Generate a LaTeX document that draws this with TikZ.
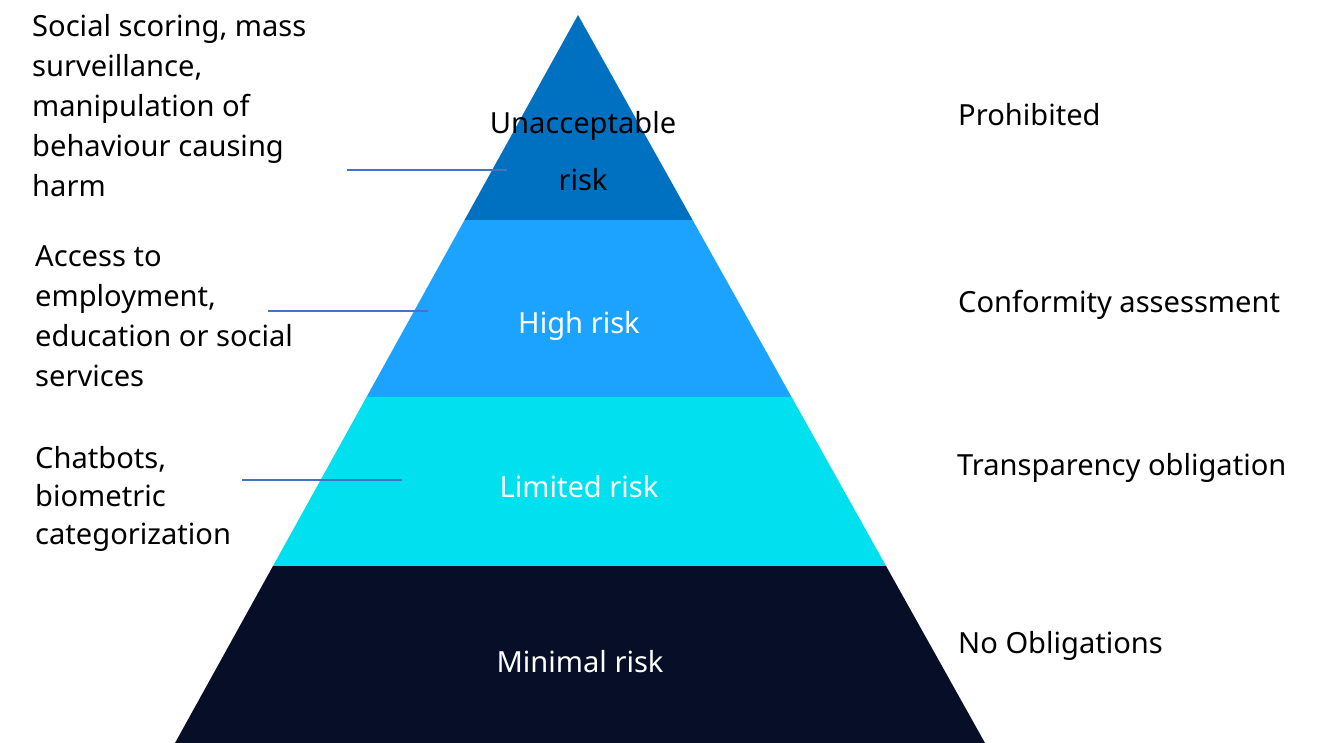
\documentclass[tikz,border=0pt]{standalone}
\usepackage{fontspec}
\setmainfont{Noto Sans}
\usetikzlibrary{calc}
\usetikzlibrary{positioning}

\definecolor{unaccBlue}{RGB}{0,112,192}
\definecolor{highBlue}{RGB}{27,163,255}
\definecolor{limCyan}{RGB}{0,224,238}
\definecolor{minNavy}{RGB}{7,15,40}
\definecolor{leadBlue}{RGB}{68,114,196}

\begin{document}
\begin{tikzpicture}[
        x=1pt,y=-1pt,
        LevelTxt/.style={
            font=\fontsize{29.1}{40}\selectfont,
            inner sep=0pt
        },
        SideTxt/.style={
            LevelTxt,
            align=left,
            anchor=north west
        },
        Leader/.style={
            draw=leadBlue,
            line width=1.6pt
        }
    ]
    \useasboundingbox (0,0) rectangle (1322,743);

    %pyramid corners
    \coordinate (T) at (578,15);
    \coordinate (L) at (175,743);
    \coordinate (R) at (985,743);

    %unacceptable risk
    \fill[unaccBlue] (T)--($(T)!0.2816!(R)$)coordinate (R1)--($(T)!0.2816!(L)$)coordinate (L1)--cycle;
    %high risk
    \fill[highBlue] (L1)--(R1)--($(T)!0.5247!(R)$)coordinate (R2)--($(T)!0.5247!(L)$)coordinate (L2)--cycle;
    %limited risk
    \fill[limCyan] (L2)--(R2)--($(T)!0.7569!(R)$)coordinate (R3)--($(T)!0.7569!(L)$)coordinate (L3)--cycle;
    %minimal risk
    \fill[minNavy] (L3)--(R3)--(R)--(L)--cycle;

    %level names
    \node[LevelTxt,align=center,font=\fontsize{29.1}{57}\selectfont] (unacc) at (583,151) {Unacceptable\\risk};
    \node[LevelTxt,text=white] (high) at (579,326) {High risk};
    \node[LevelTxt,text=white] (limited) at (579,487) {Limited risk};
    \node[LevelTxt,text=white] (minimal) at (580,662) {Minimal risk};

    %examples
    \node[SideTxt] (exUnacc) at (32,14) {Social scoring, mass\\surveillance,\\manipulation of\\behaviour causing\\harm};
    \node[SideTxt] (exHigh) at (35,245) {Access to\\employment,\\education or social\\services};
    \node[SideTxt,font=\fontsize{29.1}{38}\selectfont] (exLim) at (35,446) {Chatbots,\\biometric\\categorization};

    %obligations
    \node[LevelTxt,anchor=west] (obUnacc) at (958,115) {Prohibited};
    \node[LevelTxt,anchor=west] (obHigh) at (958,305) {Conformity assessment};
    \node[LevelTxt,anchor=west] (obLim) at (957,468) {Transparency obligation};
    \node[LevelTxt,anchor=west] (obMin) at (958,646) {No Obligations};

    %leader lines
    \coordinate (a1) at (347,170);
    \coordinate (a2) at (507,170);
    \coordinate (b1) at (268,311);
    \coordinate (b2) at (428,311);
    \coordinate (c1) at (242,480);
    \coordinate (c2) at (402,480);
    \draw[Leader] (a1)--(a2);
    \draw[Leader] (b1)--(b2);
    \draw[Leader] (c1)--(c2);

\end{tikzpicture}
\end{document}
